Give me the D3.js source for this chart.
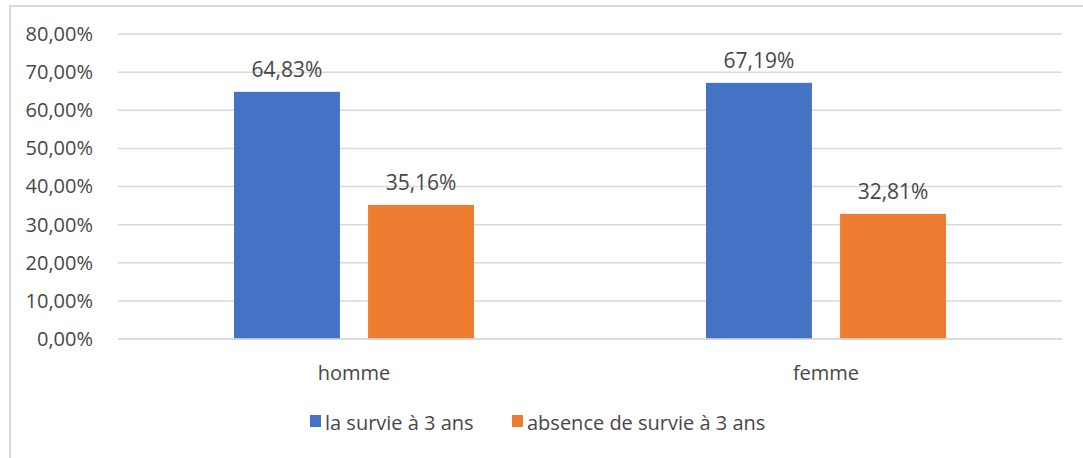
<!DOCTYPE html>
<html>
<head>
<meta charset="utf-8">
<script src="https://cdn.jsdelivr.net/npm/d3@7"></script>
<style>
  html, body { margin: 0; padding: 0; background: #fff; }
  svg { display: block; }
  text { font-family: "Open Sans", "Liberation Sans", sans-serif; fill: #474747; }
</style>
</head>
<body>
<svg id="chart" width="1083" height="458"></svg>
<script>
// Survival at 3 years, by sex
const categories = ["homme", "femme"];
const seriesNames = ["la survie à 3 ans", "absence de survie à 3 ans"];
const survie = [0.6483, 0.6719];
const absence = [0.3516, 0.3281];
const yTicks = [0, 0.1, 0.2, 0.3, 0.4, 0.5, 0.6, 0.7, 0.8];
const colors = ["#4472c4", "#ed7d31"];

const series = [survie, absence];
const rows = categories.map((c, i) => ({ cat: c, values: series.map((s, k) => ({ k, v: s[i] })) }));

const svg = d3.select("#chart");
const W = 1083, H = 458;
const margin = { left: 118, right: 21, top: 34, bottom: 119 };
const FS = 20;
const TEXT = "#474747";

const fmt = v => d3.format(".2f")(v * 100).replace(".", ",") + "%";

// outer frame
svg.append("rect")
  .attr("x", 10).attr("y", 6)
  .attr("width", W + 20).attr("height", H + 20)
  .attr("fill", "#fff").attr("stroke", "#d9d9d9").attr("stroke-width", 2);

const x0 = d3.scaleBand().domain(categories)
  .range([margin.left, W - margin.right]).paddingInner(0).paddingOuter(0);
const x1 = d3.scaleBand().domain(d3.range(series.length))
  .range([0, x0.bandwidth()]).paddingInner(0.21).paddingOuter(0.865);
const y = d3.scaleLinear().domain([0, 0.8]).range([H - margin.bottom, margin.top]);

// gridlines
svg.append("g").selectAll("line").data(yTicks).join("line")
  .attr("x1", margin.left).attr("x2", W - margin.right)
  .attr("y1", d => y(d)).attr("y2", d => y(d))
  .attr("stroke", "#d9d9d9").attr("stroke-width", 1.5);

// y axis labels
const yAxis = d3.axisLeft(y).tickValues(yTicks).tickFormat(fmt).tickSize(0).tickPadding(25);
const gy = svg.append("g").attr("transform", `translate(${margin.left},0)`).call(yAxis);
gy.select(".domain").remove();
gy.selectAll("text").attr("font-size", FS).style("fill", TEXT)
  .attr("font-family", "'Open Sans', 'Liberation Sans', sans-serif");

// bars
const groups = svg.append("g").selectAll("g").data(rows).join("g")
  .attr("transform", d => `translate(${x0(d.cat)},0)`);
groups.selectAll("rect").data(d => d.values).join("rect")
  .attr("x", d => x1(d.k)).attr("width", x1.bandwidth())
  .attr("y", d => y(d.v)).attr("height", d => y(0) - y(d.v))
  .attr("fill", d => colors[d.k]);
groups.selectAll("text").data(d => d.values).join("text")
  .attr("x", d => x1(d.k) + x1.bandwidth() / 2)
  .attr("y", d => y(d.v) - 15)
  .attr("text-anchor", "middle").attr("font-size", 21)
  .text(d => fmt(d.v));

// x axis baseline and category labels
svg.append("line")
  .attr("x1", margin.left).attr("x2", W - margin.right)
  .attr("y1", y(0)).attr("y2", y(0))
  .attr("stroke", "#d9d9d9").attr("stroke-width", 1.5);
svg.append("g").selectAll("text").data(categories).join("text")
  .attr("x", d => x0(d) + x0.bandwidth() / 2)
  .attr("y", y(0) + 41)
  .attr("text-anchor", "middle").attr("font-size", FS)
  .text(d => d);

// legend
const legendX = [310, 512];
const lg = svg.append("g").selectAll("g").data(seriesNames).join("g")
  .attr("transform", (d, i) => `translate(${legendX[i]},415)`);
lg.append("rect").attr("width", 11).attr("height", 12).attr("fill", (d, i) => colors[i]);
lg.append("text").attr("x", 15).attr("y", 15).attr("font-size", FS).text(d => d);
</script>
</body>
</html>
